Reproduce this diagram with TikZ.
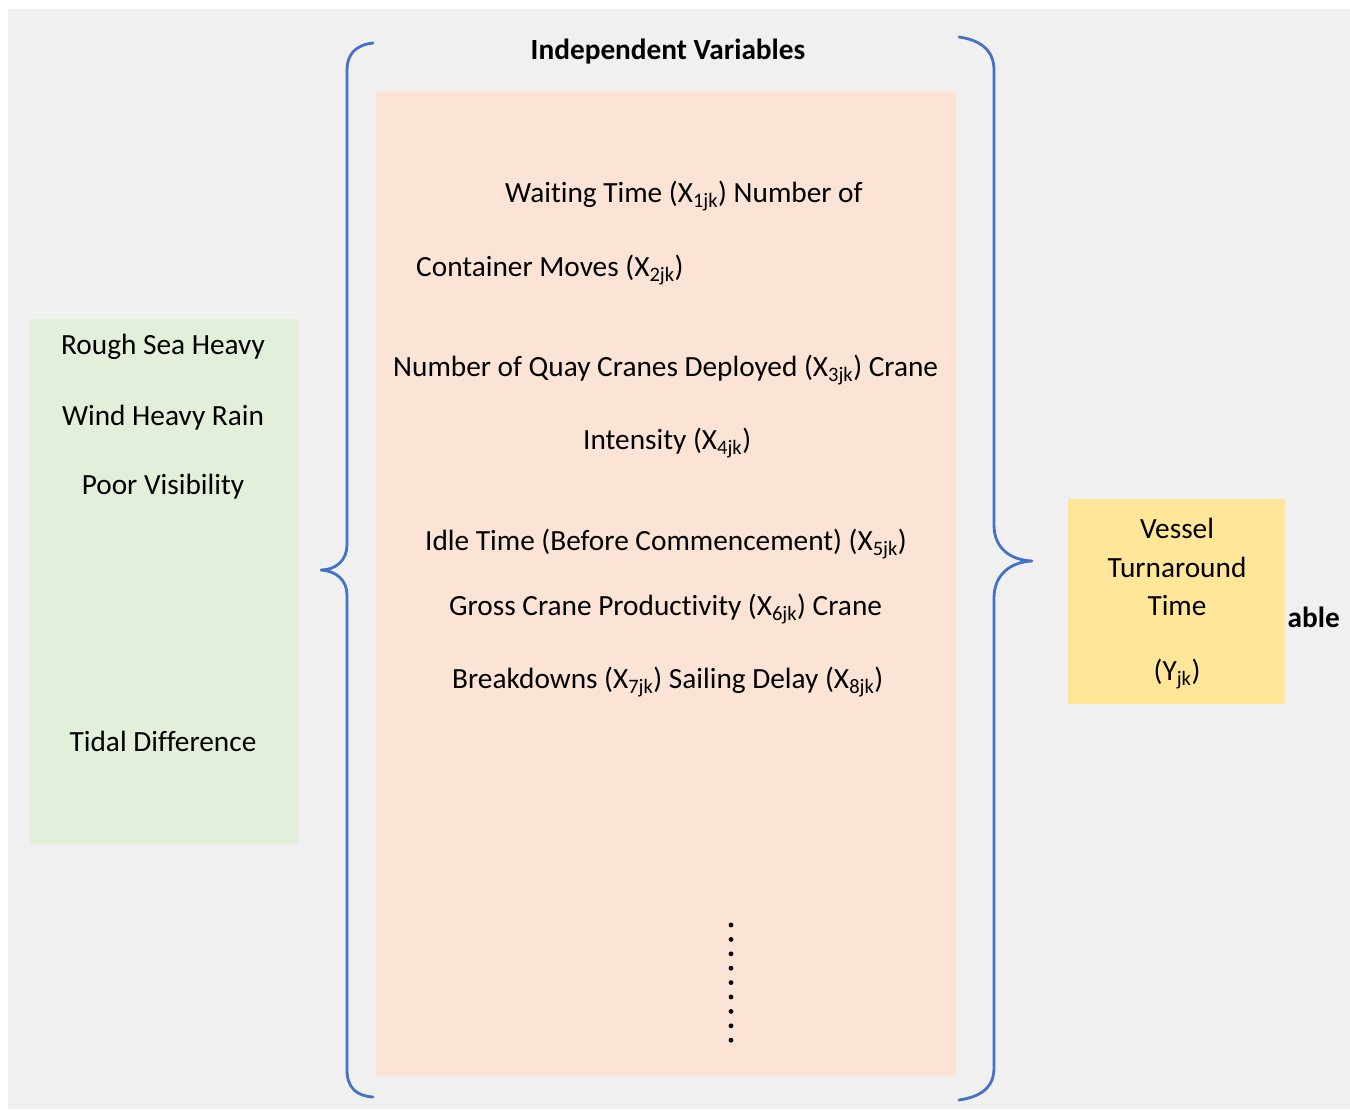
\documentclass[tikz,border=0pt]{standalone}
\usepackage{fontspec}
\setmainfont{Carlito}[Ligatures={NoCommon,NoRare}]
\definecolor{pagegray}{HTML}{F0F0F0}
\definecolor{envgreen}{HTML}{E2EFDA}
\definecolor{indpeach}{HTML}{FBE4D5}
\definecolor{depyellow}{HTML}{FFE699}
\definecolor{braceblue}{HTML}{4472C4}
\begin{document}
\begin{tikzpicture}[x=1pt,y=-1pt,
  box/.style={draw=none,inner sep=0pt,outer sep=0pt},
  txt/.style={inner sep=0pt,font=\fontsize{29.3}{35}\selectfont,text=black},
  head/.style={inner sep=0pt,font=\fontsize{29.3}{35}\selectfont\bfseries,text=black},
  brace/.style={draw=braceblue,line width=2.8pt,line cap=round,line join=round},
  dot/.style={circle,fill=black,inner sep=0pt,minimum size=4.8pt}]
\newcommand{\sub}[1]{\textsubscript{#1}}
% page and background
\useasboundingbox (0,0) rectangle (1350,1109);
\fill[white] (0,0) rectangle (1350,1109);
\fill[pagegray] (8,9) rectangle (1350,1109);

% boxes
\node[box,fill=envgreen,minimum width=269pt,minimum height=526pt] (env) at (164.5,582) {};
\node[box,fill=indpeach,minimum width=580pt,minimum height=985pt] (ind) at (666,583.5) {};
\node[head,anchor=base east] (deplabel) at (1340,627) {able};
\node[box,fill=depyellow,minimum width=217pt,minimum height=205pt] (dep) at (1176.5,601.5) {};

% environmental factors
\node[txt,anchor=base] (e1) at (163,354) {Rough Sea Heavy};
\node[txt,anchor=base] (e2) at (163,425) {Wind Heavy Rain};
\node[txt,anchor=base] (e3) at (163,494) {Poor Visibility};
\node[txt,anchor=base] (e4) at (163,751) {Tidal Difference};

% independent variables
\node[head,anchor=base] (indhead) at (668,59) {Independent Variables};
\node[txt,anchor=base west] (i1) at (505,202) {Waiting Time (X\sub{1jk}) Number of};
\node[txt,anchor=base west] (i2) at (416,276) {Container Moves (X\sub{2jk})};
\node[txt,anchor=base west] (i3) at (393,376) {Number of Quay Cranes Deployed (X\sub{3jk}) Crane};
\node[txt,anchor=base west] (i4) at (583,449) {Intensity (X\sub{4jk})};
\node[txt,anchor=base west] (i5) at (425,550) {Idle Time (Before Commencement) (X\sub{5jk})};
\node[txt,anchor=base west] (i6) at (449,615) {Gross Crane Productivity (X\sub{6jk}) Crane};
\node[txt,anchor=base west] (i7) at (452,688) {Breakdowns (X\sub{7jk}) Sailing Delay (X\sub{8jk})};
\foreach \k in {0,...,8}
  \node[dot] (d\k) at (731,925+14.4*\k) {};

% dependent variable
\node[txt,anchor=base] (y1) at (1177,538) {Vessel};
\node[txt,anchor=base] (y2) at (1177,577) {Turnaround};
\node[txt,anchor=base] (y3) at (1177,615) {Time};
\node[txt,anchor=base] (y4) at (1177,680) {(Y\sub{jk})};

% braces
\draw[brace] (373,43) .. controls (355,45) and (347,55) .. (347,70)
  -- (347,545) .. controls (347,560) and (336,570) .. (321,570)
  .. controls (336,571) and (347,580) .. (347,595)
  -- (347,1070) .. controls (347,1088) and (357,1096) .. (373,1097);
\draw[brace] (959,37) .. controls (980,40) and (994,50) .. (994,70)
  -- (994,525) .. controls (994,548) and (1010,560) .. (1032,561)
  .. controls (1010,562) and (994,575) .. (994,598)
  -- (994,1068) .. controls (994,1088) and (980,1097) .. (959,1100);
\end{tikzpicture}
\end{document}
